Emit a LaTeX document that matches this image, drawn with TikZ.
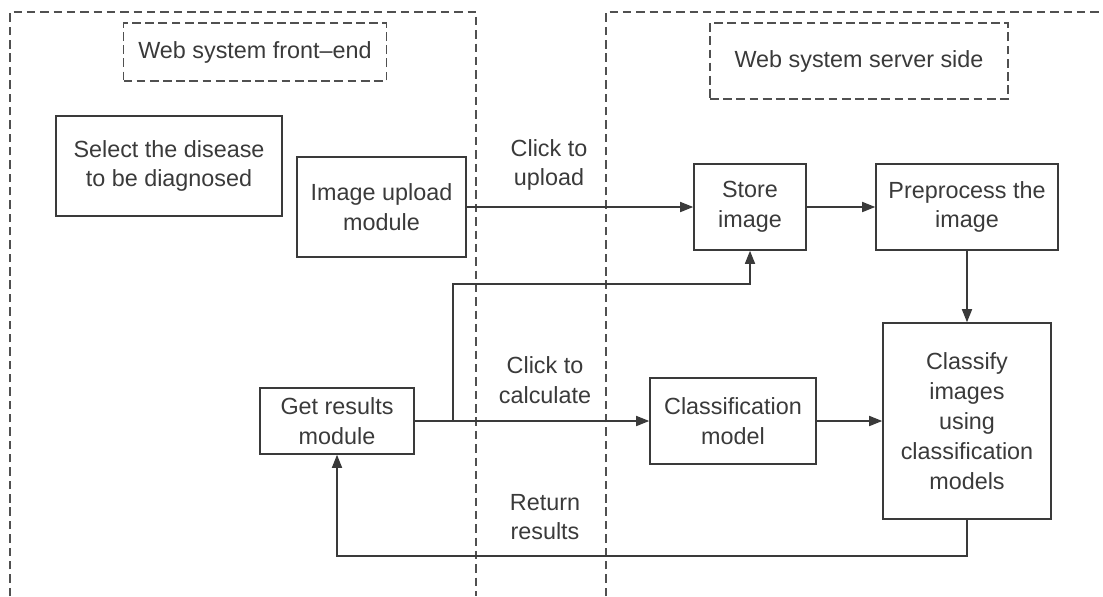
\documentclass[tikz,border=0pt]{standalone}
\usepackage{fontspec}
\setmainfont{Liberation Sans}
\usetikzlibrary{arrows.meta, positioning}

\definecolor{ink}{HTML}{3A3A3A}
\definecolor{dashink}{HTML}{505050}

\begin{document}
\begin{tikzpicture}[
    x=0.02cm, y=-0.02cm,
    font=\fontsize{13.3}{17}\selectfont,
    >={Triangle[length=0.26cm, width=0.2cm]},
    box/.style={rectangle, draw=ink, text=ink, line width=0.9pt, align=center, inner sep=2pt},
    zone/.style={draw=dashink, line width=0.8pt, dash pattern=on 4.8pt off 2.8pt},
    title/.style={rectangle, draw=dashink, text=ink, line width=1.1pt, dash pattern=on 5pt off 2.5pt, align=center},
    flow/.style={draw=ink, line width=0.9pt, ->},
    tag/.style={text=ink, align=center}
]
    \useasboundingbox (0,0) rectangle (1103,596);

    % Zones
    \draw[zone] (10,596) -- (10,12) -- (476,12) -- (476,596);
    \draw[zone] (606,596) -- (606,12) -- (1103,12);

    \node[title, minimum width=5.26cm, minimum height=1.16cm] (front) at (255,52) {Web system front--end};
    \node[title, minimum width=5.96cm, minimum height=1.52cm] (server) at (859,61) {Web system server side};

    % --- FRONT-END ---
    \node[box, minimum width=4.52cm, minimum height=2cm] (select) at (169,166) {Select the disease\\to be diagnosed};
    \node[box, minimum width=3.38cm, minimum height=2cm] (upload) at (381.5,207) {Image upload\\module};
    \node[box, minimum width=3.08cm, minimum height=1.32cm] (getres) at (337,421) {Get results\\module};

    % --- SERVER SIDE ---
    \node[box, minimum width=2.24cm, minimum height=1.72cm] (store) at (750,207) {Store\\image};
    \node[box, minimum width=3.64cm, minimum height=1.72cm] (preproc) at (967,207) {Preprocess the\\image};
    \node[box, minimum width=3.32cm, minimum height=1.72cm] (clsmodel) at (733,421) {Classification\\model};
    \node[box, minimum width=3.36cm, minimum height=3.92cm] (classify) at (967,421) {Classify\\images\\using\\classification\\models};

    % Connectors
    \draw[flow] (upload) -- (store);
    \draw[flow] (store) -- (preproc);
    \draw[flow] (preproc) -- (classify);
    \draw[flow] (getres) -- (clsmodel);
    \draw[flow] (clsmodel) -- (classify);

    \coordinate (branch) at (453,421);
    \draw[flow] (branch) -- ++(0,-137) -| (store.south);
    \draw[flow] (classify.south) -- ++(0,36) -| (getres.south);

    % Labels
    \node[tag] (uptag) at (549,165) {Click to\\upload};
    \node[tag] (calctag) at (545,380) {Click to\\calculate};
    \node[tag] (rettag) at (545,517) {Return\\results};

\end{tikzpicture}
\end{document}
